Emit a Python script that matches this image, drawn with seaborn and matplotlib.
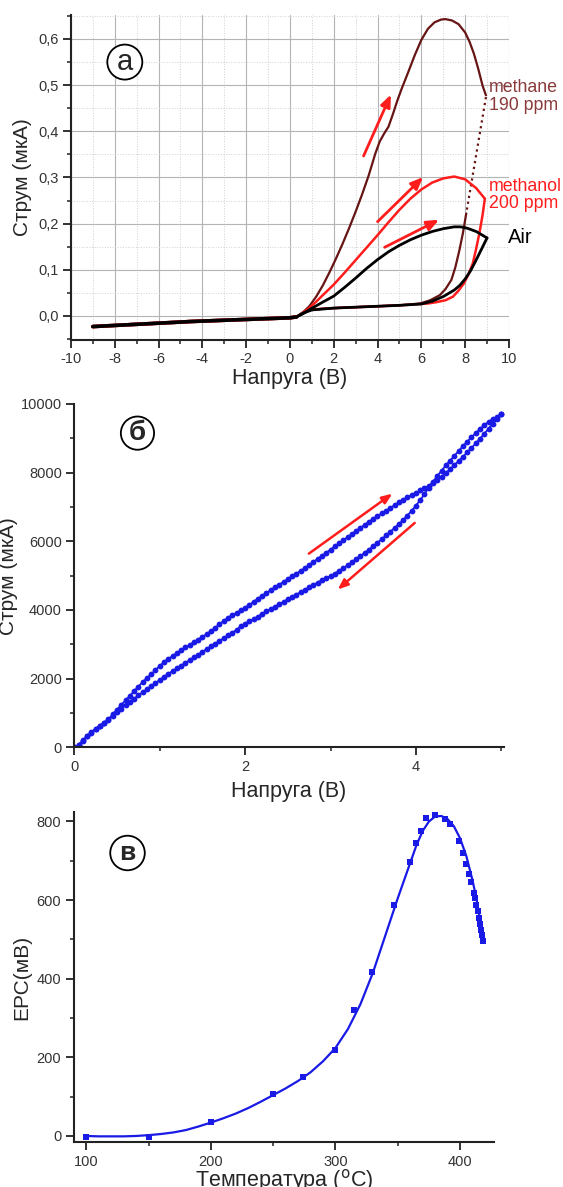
import matplotlib
matplotlib.use('Agg')
import matplotlib.pyplot as plt
import matplotlib.ticker as mticker
import seaborn as sns

# ---------------- panel (а): I-V loops, current in uA ----------------
neg_v = [-9.0, -4.5, 0.0, 0.3]
neg_i = [-0.023, -0.012, -0.004, -0.002]

air_fwd_v = [0.3, 0.6, 0.9, 1.2, 1.5, 2.0, 2.5, 3.0, 3.5, 4.0, 4.5, 5.0, 5.5, 6.0, 6.5, 7.0, 7.5, 7.8, 8.1, 8.5, 9.0]
air_fwd_i = [-0.002, 0.005, 0.014, 0.022, 0.030, 0.043, 0.062, 0.082, 0.103, 0.122, 0.139, 0.153, 0.165, 0.175, 0.183, 0.189, 0.193, 0.193, 0.190, 0.183, 0.169]
air_ret_v = [9.0, 8.75, 8.5, 8.25, 8.0, 7.75, 7.5, 7.0, 6.5, 6.0, 5.0, 4.0, 3.0, 2.0, 1.0, 0.6, 0.3]
air_ret_i = [0.169, 0.145, 0.121, 0.098, 0.080, 0.066, 0.056, 0.042, 0.032, 0.026, 0.023, 0.021, 0.019, 0.017, 0.013, 0.006, -0.002]

meol_fwd_v = [0.3, 0.6, 0.9, 1.2, 1.5, 2.0, 2.5, 3.0, 3.5, 4.0, 4.5, 5.0, 5.5, 6.0, 6.5, 7.0, 7.5, 8.0, 8.5, 8.9]
meol_fwd_i = [-0.002, 0.007, 0.018, 0.031, 0.045, 0.068, 0.094, 0.121, 0.148, 0.175, 0.203, 0.230, 0.254, 0.274, 0.289, 0.298, 0.302, 0.296, 0.277, 0.254]
meol_ret_v = [8.9, 8.8, 8.65, 8.5, 8.35, 8.15, 7.95, 7.7, 7.45, 7.1, 6.7, 6.3, 6.0, 5.0, 4.0, 3.0, 2.0, 1.0, 0.6, 0.3]
meol_ret_i = [0.254, 0.220, 0.179, 0.145, 0.114, 0.090, 0.071, 0.055, 0.042, 0.034, 0.030, 0.027, 0.026, 0.023, 0.021, 0.019, 0.017, 0.014, 0.007, -0.002]

meth_fwd_v = [0.3, 0.6, 0.9, 1.2, 1.5, 1.8, 2.1, 2.4, 2.7, 3.0, 3.3, 3.6, 3.9, 4.1, 4.3, 4.5, 4.7, 4.9, 5.1, 5.4,
              5.7, 6.0, 6.3, 6.6, 6.9, 7.1, 7.4, 7.7, 8.0, 8.2, 8.4, 8.6, 8.8, 8.95]
meth_fwd_i = [-0.002, 0.008, 0.022, 0.042, 0.066, 0.094, 0.124, 0.156, 0.190, 0.226, 0.264, 0.305, 0.352, 0.378, 0.395, 0.410,
              0.437, 0.466, 0.492, 0.528, 0.565, 0.598, 0.622, 0.636, 0.642, 0.643, 0.640, 0.632, 0.614, 0.594, 0.568, 0.535,
              0.498, 0.478]
meth_dot_v = [8.95, 8.05]
meth_dot_i = [0.474, 0.222]
meth_ret_v = [8.05, 7.9, 7.74, 7.55, 7.37, 7.1, 6.84, 6.4, 5.94, 5.0, 4.0, 3.0, 2.0, 1.0, 0.6, 0.3]
meth_ret_i = [0.222, 0.180, 0.143, 0.105, 0.078, 0.058, 0.045, 0.034, 0.027, 0.023, 0.021, 0.019, 0.017, 0.014, 0.008, -0.002]

arrows_a = [((3.31, 0.341), (4.66, 0.485)), ((3.91, 0.200), (6.17, 0.305)), ((4.21, 0.146), (6.92, 0.211))]

# ---------------- panel (б): sweep 0..5 V, current in uA ----------------
sweep_v = [0.00, 0.05, 0.10, 0.15, 0.20, 0.25, 0.30, 0.35, 0.40, 0.45, 0.50, 0.55, 0.60, 0.65, 0.70, 0.75, 0.80, 0.85, 0.90, 0.95,
           1.00, 1.05, 1.10, 1.15, 1.20, 1.25, 1.30, 1.35, 1.40, 1.45, 1.50, 1.55, 1.60, 1.65, 1.70, 1.75, 1.80, 1.85, 1.90, 1.95,
           2.00, 2.05, 2.10, 2.15, 2.20, 2.25, 2.30, 2.35, 2.40, 2.45, 2.50, 2.55, 2.60, 2.65, 2.70, 2.75, 2.80, 2.85, 2.90, 2.95,
           3.00, 3.05, 3.10, 3.15, 3.20, 3.25, 3.30, 3.35, 3.40, 3.45, 3.50, 3.55, 3.60, 3.65, 3.70, 3.75, 3.80, 3.85, 3.90, 3.95,
           4.00, 4.05, 4.10, 4.15, 4.20, 4.25, 4.30, 4.35, 4.40, 4.45, 4.50, 4.55, 4.60, 4.65, 4.70, 4.75, 4.80, 4.85, 4.90, 4.95,
           5.00]
up_i = [0, 70, 200, 330, 440, 540, 630, 720, 820, 960, 1100, 1240, 1370, 1500, 1640, 1770, 1900, 2020, 2130, 2250,
        2370, 2480, 2570, 2660, 2745, 2830, 2910, 2985, 3060, 3140, 3215, 3300, 3390, 3480, 3590, 3680, 3770, 3850, 3920, 3990,
        4060, 4150, 4240, 4330, 4410, 4496, 4580, 4660, 4740, 4820, 4900, 4980, 5060, 5140, 5220, 5310, 5400, 5490, 5580, 5670,
        5760, 5850, 5940, 6030, 6120, 6210, 6300, 6390, 6480, 6570, 6650, 6730, 6810, 6890, 6970, 7050, 7130, 7210, 7280, 7340,
        7400, 7480, 7550, 7620, 7690, 7780, 7880, 7990, 8100, 8220, 8340, 8460, 8590, 8720, 8850, 8990, 9130, 9280, 9420, 9560,
        9700]
down_i = [0, 70, 190, 320, 430, 530, 610, 700, 800, 920, 1030, 1130, 1230, 1330, 1420, 1510, 1600, 1690, 1780, 1870,
          1960, 2050, 2140, 2220, 2300, 2380, 2460, 2540, 2620, 2700, 2780, 2860, 2940, 3020, 3100, 3180, 3260, 3340, 3420, 3530,
          3600, 3670, 3740, 3810, 3880, 3960, 4030, 4100, 4170, 4240, 4310, 4380, 4450, 4520, 4590, 4660, 4730, 4800, 4870, 4930,
          4990, 5060, 5140, 5220, 5300, 5385, 5475, 5570, 5665, 5760, 5860, 5960, 6065, 6170, 6280, 6390, 6500, 6620, 6750, 6890,
          7040, 7200, 7370, 7560, 7740, 7900, 8060, 8210, 8350, 8490, 8630, 8770, 8900, 9030, 9150, 9270, 9380, 9480, 9560, 9630,
          9700]

arrows_b = [((2.72, 5594), (3.75, 7434)), ((4.01, 6587), (3.06, 4543))]

# ---------------- panel (в): EMF vs temperature ----------------
temp_pts = [100, 150, 200, 250, 274, 300, 315, 329, 347, 360, 365, 369, 373, 380, 388, 392, 399, 402, 405, 407,
            409, 411, 412, 413, 414, 415, 416, 417, 417.5, 418]
emf_pts = [-2, -2, 36, 108, 151, 219, 320, 416, 588, 696, 745, 777, 808, 817, 806, 793, 751, 719, 692, 667,
           645, 619, 605, 588, 573, 554, 539, 524, 510, 497]
temp_fit = [100, 110, 120, 130, 140, 150, 160, 170, 180, 190, 200, 210, 220, 230, 240, 250, 260, 270, 280, 290,
            300, 310, 320, 330, 340, 350, 360, 365, 370, 375, 380, 385, 390, 395, 400, 405, 410, 413, 416, 418]
emf_fit = [0, -1, -1, -1, 0, 2, 5, 9, 15, 24, 34, 45, 57, 71, 87, 104, 121, 140, 162, 190,
           224, 272, 335, 415, 510, 605, 695, 740, 776, 800, 813, 814, 806, 788, 757, 712, 650, 605, 550, 500]

sns.set_theme(style='ticks')
plt.rcParams['font.family'] = ['Liberation Sans', 'DejaVu Sans']
plt.rcParams['axes.unicode_minus'] = False

fig = plt.figure(figsize=(5.63, 11.87), dpi=100)
ax1 = fig.add_axes([0.126, 0.7136, 0.778, 0.2738])
ax2 = fig.add_axes([0.132, 0.3704, 0.763, 0.2893])
ax3 = fig.add_axes([0.131, 0.0377, 0.746, 0.2785])


def style_axes(ax):
    sns.despine(ax=ax)
    for s in ('left', 'bottom'):
        ax.spines[s].set_linewidth(1.5)
        ax.spines[s].set_color('#222222')
    ax.tick_params(which='major', direction='out', length=5.5, width=1.3, labelsize=10.5,
                   labelcolor='#333333', color='#222222')
    ax.tick_params(which='minor', direction='out', length=3, width=1.1, color='#222222')


# ----- (а) -----
ax1.set_axisbelow(True)
ax1.grid(which='major', color='#b4b4b4', lw=0.8)
ax1.grid(which='minor', color='#d0d0d0', lw=0.7, ls=':')

METHANE = '#661414'
METHANOL = '#ff1c1c'
for c in (METHANE, METHANOL, 'black'):
    sns.lineplot(x=neg_v, y=neg_i, sort=False, estimator=None, color=c, lw=2.6, ax=ax1)
sns.lineplot(x=meth_fwd_v, y=meth_fwd_i, sort=False, estimator=None, color=METHANE, lw=1.6, ax=ax1)
sns.lineplot(x=meth_dot_v, y=meth_dot_i, sort=False, estimator=None, color=METHANE, lw=1.6, ls=':', ax=ax1)
sns.lineplot(x=meth_ret_v, y=meth_ret_i, sort=False, estimator=None, color=METHANE, lw=1.6, ax=ax1)
sns.lineplot(x=meol_fwd_v, y=meol_fwd_i, sort=False, estimator=None, color=METHANOL, lw=1.8, ax=ax1)
sns.lineplot(x=meol_ret_v, y=meol_ret_i, sort=False, estimator=None, color=METHANOL, lw=1.8, ax=ax1)
sns.lineplot(x=air_fwd_v, y=air_fwd_i, sort=False, estimator=None, color='black', lw=2.0, ax=ax1)
sns.lineplot(x=air_ret_v, y=air_ret_i, sort=False, estimator=None, color='black', lw=2.0, ax=ax1)

for (x0, y0), (x1, y1) in arrows_a:
    ax1.annotate('', xy=(x1, y1), xytext=(x0, y0),
                 arrowprops=dict(arrowstyle='-|>,head_length=0.6,head_width=0.25', color='#ff1c1c', lw=2))

ax1.text(9.1, 0.475, 'methane\n190 ppm', color='#8a3a3a', fontsize=12.8, va='center', ha='left', linespacing=1.05)
ax1.text(9.1, 0.262, 'methanol\n200 ppm', color='#ff1c1c', fontsize=12.8, va='center', ha='left', linespacing=1.05)
ax1.text(9.95, 0.171, 'Air', color='black', fontsize=14.5, va='center', ha='left')
ax1.text(0.123, 0.855, 'а', transform=ax1.transAxes, fontsize=21, ha='center', va='center',
         bbox=dict(boxstyle='circle,pad=0.12', fc='white', ec='black', lw=1.3))

ax1.set_xlim(-10, 10)
ax1.set_ylim(-0.052, 0.652)
ax1.xaxis.set_major_locator(mticker.MultipleLocator(2))
ax1.xaxis.set_minor_locator(mticker.MultipleLocator(1))
ax1.yaxis.set_major_locator(mticker.MultipleLocator(0.1))
ax1.yaxis.set_minor_locator(mticker.MultipleLocator(0.05))
ax1.yaxis.set_major_formatter(mticker.FuncFormatter(lambda v, p: f'{v:.1f}'.replace('.', ',')))
ax1.set_xlabel('Напруга (В)', fontsize=15.5, labelpad=1)
ax1.set_ylabel('Струм (мкА)', fontsize=15, labelpad=4)
style_axes(ax1)

# ----- (б) -----
BLUE = '#1a1ae6'
sns.lineplot(x=sweep_v, y=up_i, sort=False, estimator=None, color=BLUE, lw=1.3,
             marker='o', markersize=4.2, markeredgewidth=0, ax=ax2)
sns.lineplot(x=sweep_v[::-1], y=down_i[::-1], sort=False, estimator=None, color=BLUE, lw=1.3,
             marker='o', markersize=4.2, markeredgewidth=0, ax=ax2)
for (x0, y0), (x1, y1) in arrows_b:
    ax2.annotate('', xy=(x1, y1), xytext=(x0, y0),
                 arrowprops=dict(arrowstyle='-|>,head_length=0.5,head_width=0.2', color='#ff1c1c', lw=1.8))
ax2.text(0.147, 0.915, 'б', transform=ax2.transAxes, fontsize=20, fontweight='bold', ha='center', va='center',
         bbox=dict(boxstyle='circle,pad=0.13', fc='white', ec='black', lw=1.3))
ax2.set_xlim(0, 5.03)
ax2.set_ylim(0, 10000)
ax2.xaxis.set_major_locator(mticker.MultipleLocator(2))
ax2.xaxis.set_minor_locator(mticker.MultipleLocator(1))
ax2.yaxis.set_major_locator(mticker.MultipleLocator(2000))
ax2.yaxis.set_minor_locator(mticker.MultipleLocator(1000))
ax2.set_xlabel('Напруга (В)', fontsize=15.5, labelpad=5)
ax2.set_ylabel('Струм (мкА)', fontsize=15, labelpad=2)
style_axes(ax2)

# ----- (в) -----
sns.lineplot(x=temp_fit, y=emf_fit, sort=False, estimator=None, color=BLUE, lw=1.6, ax=ax3)
sns.scatterplot(x=temp_pts, y=emf_pts, color=BLUE, marker='s', s=14, linewidth=0, ax=ax3)
ax3.text(0.128, 0.875, 'в', transform=ax3.transAxes, fontsize=19, fontweight='bold', ha='center', va='center',
         bbox=dict(boxstyle='circle,pad=0.2', fc='white', ec='black', lw=1.3))
ax3.set_xlim(90, 427)
ax3.set_ylim(-16, 825)
ax3.xaxis.set_major_locator(mticker.MultipleLocator(100))
ax3.xaxis.set_minor_locator(mticker.MultipleLocator(50))
ax3.yaxis.set_major_locator(mticker.MultipleLocator(200))
ax3.yaxis.set_minor_locator(mticker.MultipleLocator(100))
ax3.set_xlabel('Температура ($^{\\mathrm{o}}$C)', fontsize=15.5, labelpad=-1)
ax3.set_ylabel('ЕРС(мВ)', fontsize=15, labelpad=4)
style_axes(ax3)

fig.savefig('out.png', dpi=100)
